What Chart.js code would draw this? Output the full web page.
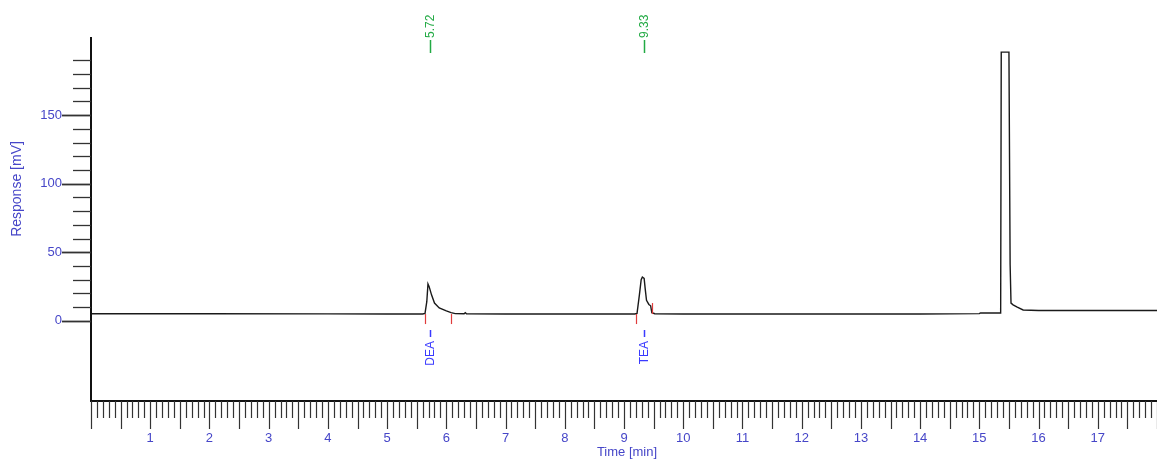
<!DOCTYPE html>
<html>
<head>
<meta charset="utf-8">
<script src="https://cdn.jsdelivr.net/npm/chart.js@4"></script>
<style>
html,body{margin:0;padding:0;background:#fff;}
#wrap{width:1157px;height:460px;position:relative;}
</style>
</head>
<body>
<div id="wrap"><canvas id="c" width="1157" height="460"></canvas></div>
<script>
// ---- data ----
const times = [0, 2.0, 4.0, 5.0, 5.60, 5.64, 5.67, 5.69, 5.71, 5.75, 5.80, 5.88, 6.00, 6.08, 6.15, 6.30, 6.32, 6.34, 7.0, 8.0, 9.0, 9.18, 9.22, 9.26, 9.29, 9.31, 9.34, 9.36, 9.38, 9.42, 9.45, 9.47, 9.52, 10, 12, 14, 15.0, 15.02, 15.36, 15.37, 15.50, 15.52, 15.535, 15.57, 15.64, 15.74, 16, 17, 18];
const response = [5.2, 5.2, 5.1, 5.0, 5.0, 5.5, 14, 27, 25, 19, 13, 9.5, 7.3, 6, 5.3, 5.2, 6, 5.2, 5.0, 5.0, 5.0, 5.0, 5.5, 19, 30, 32, 31, 22.6, 15, 12, 11, 6, 5.2, 5.0, 5.0, 5.0, 5.3, 5.8, 5.8, 196, 196, 41, 13, 11.7, 10, 8, 7.6, 7.6, 7.6];

const peakNames = ['DEA', 'TEA'];
const peakTimes = [5.72, 9.33];
const peakTimeLabels = ['5.72', '9.33'];
const peakStarts = [5.64, 9.20];
const peakEnds = [6.08, 9.47];

const xTickValues = [1,2,3,4,5,6,7,8,9,10,11,12,13,14,15,16,17];
const xTickLabels = ['1','2','3','4','5','6','7','8','9','10','11','12','13','14','15','16','17'];
const yTickValues = [0, 50, 100, 150];
const yTickLabels = ['0', '50', '100', '150'];
const xTitle = 'Time [min]';
const yTitle = 'Response [mV]';

const points = times.map((t, i) => ({x: t, y: response[i]}));

const labelBlue = '#4646c8';
const FONT = '"Liberation Sans", Arial, sans-serif';

const axisPlugin = {
  id: 'chromAxes',
  afterDraw(chart) {
    const ctx = chart.ctx;
    const xs = chart.scales.x, ys = chart.scales.y;
    const area = chart.chartArea;
    ctx.save();
    // axis lines
    ctx.strokeStyle = '#111';
    ctx.lineWidth = 2;
    ctx.beginPath();
    ctx.moveTo(area.left, area.top);
    ctx.lineTo(area.left, area.bottom);
    ctx.lineTo(area.right, area.bottom);
    ctx.stroke();

    // x ticks every 0.1 min
    ctx.lineWidth = 1.2;
    ctx.strokeStyle = '#333';
    for (let i = 0; i <= 180; i++) {
      const t = i / 10;
      const px = Math.round(xs.getPixelForValue(t)) + 0.5;
      const len = (i % 5 === 0) ? 28 : 17;
      ctx.beginPath();
      ctx.moveTo(px, area.bottom);
      ctx.lineTo(px, area.bottom + len);
      ctx.stroke();
    }
    // y ticks every 10
    for (let v = 0; v <= 190; v += 10) {
      const py = Math.round(ys.getPixelForValue(v)) + 0.5;
      const major = v % 50 === 0;
      ctx.lineWidth = major ? 1.8 : 1.3;
      ctx.beginPath();
      ctx.moveTo(area.left - (major ? 29 : 18), py);
      ctx.lineTo(area.left, py);
      ctx.stroke();
    }

    // tick labels
    ctx.fillStyle = labelBlue;
    ctx.font = '13px ' + FONT;
    ctx.textAlign = 'center';
    ctx.textBaseline = 'middle';
    xTickValues.forEach((v, i) => {
      ctx.fillText(xTickLabels[i], xs.getPixelForValue(v), area.bottom + 37);
    });
    ctx.textAlign = 'right';
    yTickValues.forEach((v, i) => {
      ctx.fillText(yTickLabels[i], area.left - 29, ys.getPixelForValue(v));
    });

    // axis titles
    ctx.textAlign = 'center';
    ctx.font = '13px ' + FONT;
    ctx.fillText(xTitle, 627, 452);
    ctx.save();
    ctx.translate(17, 189);
    ctx.rotate(-Math.PI / 2);
    ctx.font = '14px ' + FONT;
    ctx.fillText(yTitle, 0, 0);
    ctx.restore();

    // peak annotations
    peakTimes.forEach((t, i) => {
      const px = Math.round(xs.getPixelForValue(t)) + 0.5;
      // green retention time marker at top
      ctx.strokeStyle = '#22aa44';
      ctx.lineWidth = 1.5;
      ctx.beginPath();
      ctx.moveTo(px, 40);
      ctx.lineTo(px, 53);
      ctx.stroke();
      ctx.save();
      ctx.translate(px, 38);
      ctx.rotate(-Math.PI / 2);
      ctx.fillStyle = '#22aa44';
      ctx.font = '12px ' + FONT;
      ctx.textAlign = 'left';
      ctx.textBaseline = 'middle';
      ctx.fillText(peakTimeLabels[i], 0, 0);
      ctx.restore();

      // blue compound name below
      ctx.strokeStyle = '#3a3aff';
      ctx.lineWidth = 1.5;
      ctx.beginPath();
      ctx.moveTo(px, 330);
      ctx.lineTo(px, 337);
      ctx.stroke();
      ctx.save();
      ctx.translate(px, 341);
      ctx.rotate(-Math.PI / 2);
      ctx.fillStyle = '#3a3aff';
      ctx.font = '12px ' + FONT;
      ctx.textAlign = 'right';
      ctx.textBaseline = 'middle';
      ctx.fillText(peakNames[i], 0, 0);
      ctx.restore();

      // red integration markers
      ctx.strokeStyle = '#e03c3c';
      ctx.lineWidth = 1.2;
      const bY = ys.getPixelForValue(5);
      const sx = Math.round(xs.getPixelForValue(peakStarts[i])) + 0.5;
      ctx.beginPath();
      ctx.moveTo(sx, bY);
      ctx.lineTo(sx, bY + 10);
      ctx.stroke();
      const ex = Math.round(xs.getPixelForValue(peakEnds[i])) + 0.5;
      ctx.beginPath();
      if (i === 0) {
        ctx.moveTo(ex, bY);
        ctx.lineTo(ex, bY + 10);
      } else {
        ctx.moveTo(ex, bY);
        ctx.lineTo(ex, bY - 11);
      }
      ctx.stroke();
    });
    ctx.restore();
  }
};

new Chart(document.getElementById('c'), {
  type: 'line',
  data: {
    datasets: [{
      data: points,
      borderColor: '#1a1a1a',
      borderWidth: 1.4,
      pointRadius: 0,
      tension: 0,
      fill: false
    }]
  },
  options: {
    responsive: false,
    animation: false,
    events: [],
    layout: {padding: {left: 91, right: 0, top: 37, bottom: 59}},
    plugins: {legend: {display: false}, tooltip: {enabled: false}},
    scales: {
      x: {type: 'linear', min: 0, max: 18, display: false},
      y: {type: 'linear', min: -58.4, max: 207, display: false}
    }
  },
  plugins: [axisPlugin]
});
</script>
</body>
</html>
